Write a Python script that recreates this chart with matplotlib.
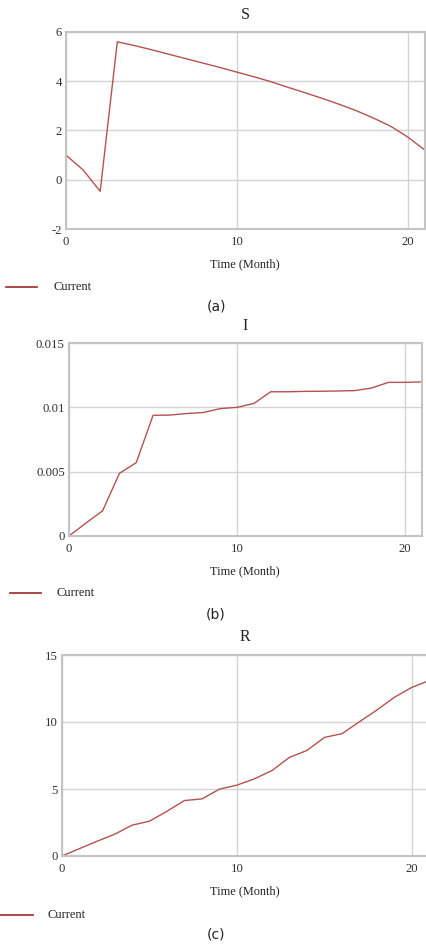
import matplotlib
matplotlib.use("Agg")
import matplotlib.pyplot as plt
from matplotlib.lines import Line2D

months = list(range(0, 22))
S_values = [1.0, 0.4, -0.47, 5.6, 5.45, 5.28, 5.1, 4.92, 4.74, 4.56, 4.37, 4.18,
            3.98, 3.75, 3.53, 3.3, 3.06, 2.8, 2.5, 2.17, 1.73, 1.2]
I_values = [0.0, 0.001, 0.00196, 0.00487, 0.0057, 0.00938, 0.0094, 0.00952, 0.0096,
            0.0099, 0.01, 0.0103, 0.01121, 0.01121, 0.01124, 0.01125, 0.01127, 0.0113,
            0.0115, 0.01194, 0.01194, 0.01198]
R_values = [0.0, 0.55, 1.1, 1.62, 2.3, 2.6, 3.34, 4.14, 4.26, 4.99, 5.29, 5.76,
            6.38, 7.36, 7.88, 8.85, 9.13, 10.02, 10.9, 11.85, 12.59, 13.1]

titles = ["S", "I", "R"]
sub_labels = ["(a)", "(b)", "(c)"]
y_ticks = [[-2, 0, 2, 4, 6], [0, 0.005, 0.01, 0.015], [0, 5, 10, 15]]
y_ticklabels = [["-2", "0", "2", "4", "6"], ["0", "0.005", "0.01", "0.015"], ["0", "5", "10", "15"]]
y_lims = [(-2, 6), (0, 0.015), (0, 15)]
x_ticks = [0, 10, 20]
x_ticklabels = ["0", "10", "20"]
series = [S_values, I_values, R_values]
legend_label = "Current"
xlabel = "Time (Month)"

W, H = 426, 944
fig = plt.figure(figsize=(W / 100, H / 100), dpi=100)

serif = ["Liberation Serif", "DejaVu Serif"]
line_color = "#b5524f"
leg_color = "#a33a38"
spine_color = "#c4c4c4"
grid_color = "#d4d4d4"

# (left_px, right_px, top_px, bottom_px)
boxes = [(66, 425, 32, 229), (69, 422, 343, 536), (62, 429.5, 655, 856)]
title_y = [15, 326, 637]
xlabel_y = [264, 571, 891]
leg_y = [287, 593, 915]
leg_x = [(6, 37, 53), (10, 41, 56), (0, 33, 48)]
sub_y = [306, 615, 935]

for k in range(3):
    l, r, t, b = boxes[k]
    ax = fig.add_axes([l / W, 1 - b / H, (r - l) / W, (b - t) / H])
    ax.plot(months, series[k], color=line_color, lw=1.0)
    ax.set_xlim(0, 21)
    ax.set_ylim(*y_lims[k])
    ax.set_xticks(x_ticks)
    ax.set_xticklabels(x_ticklabels, fontfamily=serif, fontsize=9.2, color="#333333")
    ax.set_yticks(y_ticks[k])
    ax.set_yticklabels(y_ticklabels[k], fontfamily=serif, fontsize=9.2, color="#333333")
    ax.tick_params(axis="x", length=0, pad=5)
    ax.tick_params(axis="y", length=0, pad=3)
    ax.grid(True, color=grid_color, lw=1.0)
    ax.set_axisbelow(True)
    for sp in ax.spines.values():
        sp.set_color(spine_color)
        sp.set_linewidth(1.5)
    fig.text(245 / W, 1 - title_y[k] / H, titles[k], ha="center", va="center",
             fontfamily=serif, fontsize=11.5, color="#222222")
    fig.text(245 / W, 1 - xlabel_y[k] / H, xlabel, ha="center", va="center",
             fontfamily=serif, fontsize=8.8, color="#222222")
    x0, x1, xt = leg_x[k]
    fig.add_artist(Line2D([x0 / W, x1 / W], [1 - leg_y[k] / H] * 2, color=leg_color, lw=1.3,
                          transform=fig.transFigure))
    fig.text(xt / W, 1 - leg_y[k] / H, legend_label, ha="left", va="center",
             fontfamily=serif, fontsize=9, color="#222222")
    fig.text(216 / W, 1 - sub_y[k] / H, sub_labels[k], ha="center", va="center",
             fontfamily=["DejaVu Sans"], fontsize=10, color="#222222")

fig.savefig("out.png", dpi=100)
